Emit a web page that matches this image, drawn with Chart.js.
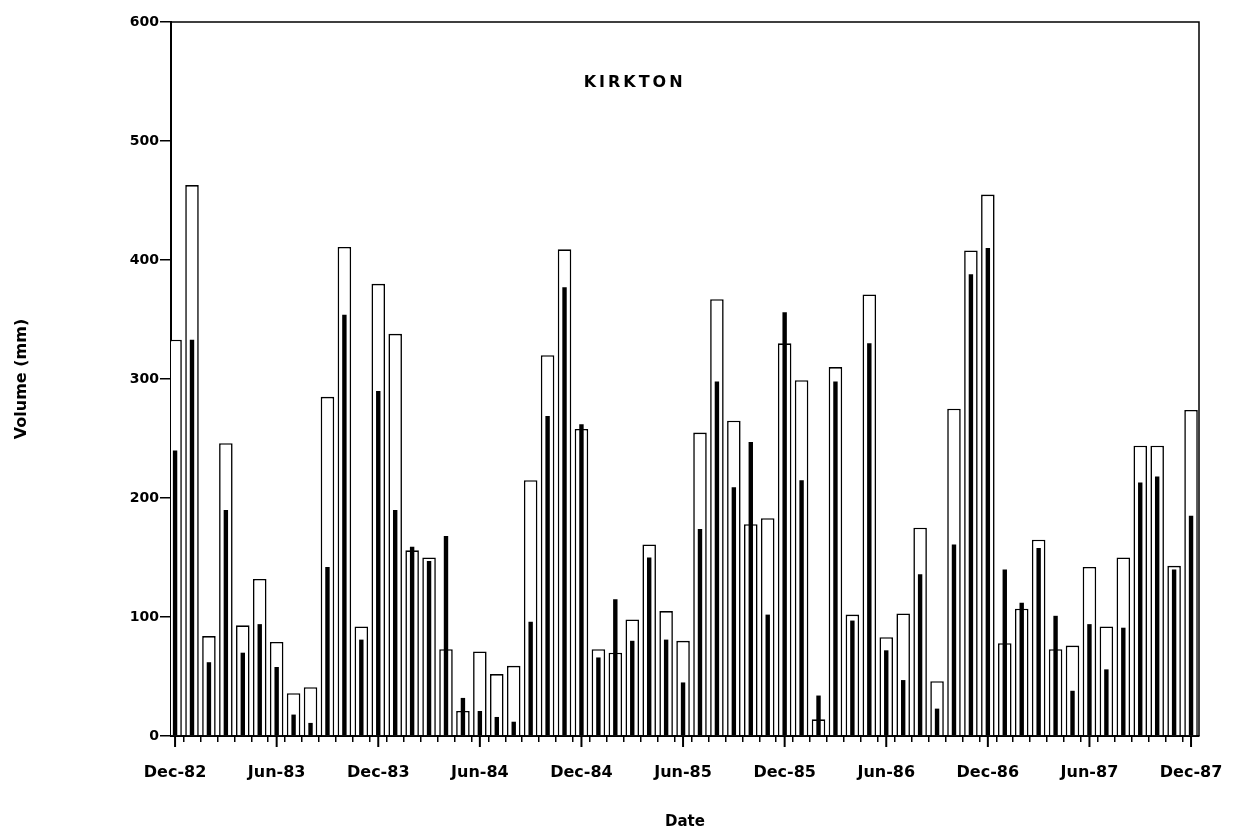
<!DOCTYPE html>
<html>
<head>
<meta charset="utf-8">
<script src="https://cdn.jsdelivr.net/npm/chart.js@4/dist/chart.umd.min.js"></script>
<style>
  html, body { margin: 0; padding: 0; background: #fff; }
  #wrap { width: 1244px; height: 835px; }
</style>
</head>
<body>
<div id="wrap"><canvas id="kirkton_chart" width="1244" height="835"></canvas></div>
<script>
//Monthly values, Dec-82 to Dec-87
const months = ["Dec-82","Jan-83","Feb-83","Mar-83","Apr-83","May-83","Jun-83","Jul-83","Aug-83","Sep-83","Oct-83","Nov-83",
                "Dec-83","Jan-84","Feb-84","Mar-84","Apr-84","May-84","Jun-84","Jul-84","Aug-84","Sep-84","Oct-84","Nov-84",
                "Dec-84","Jan-85","Feb-85","Mar-85","Apr-85","May-85","Jun-85","Jul-85","Aug-85","Sep-85","Oct-85","Nov-85",
                "Dec-85","Jan-86","Feb-86","Mar-86","Apr-86","May-86","Jun-86","Jul-86","Aug-86","Sep-86","Oct-86","Nov-86",
                "Dec-86","Jan-87","Feb-87","Mar-87","Apr-87","May-87","Jun-87","Jul-87","Aug-87","Sep-87","Oct-87","Nov-87",
                "Dec-87"];

//open bars
const open_values = [333, 463, 84, 246, 93, 132, 79, 36, 41, 285, 411, 92,
                     380, 338, 156, 150, 73, 21, 71, 52, 59, 215, 320, 409,
                     258, 73, 70, 98, 161, 105, 80, 255, 367, 265, 178, 183,
                     330, 299, 14, 310, 102, 371, 83, 103, 175, 46, 275, 408,
                     455, 78, 107, 165, 73, 76, 142, 92, 150, 244, 244, 143,
                     274];

//black bars
const black_values = [240, 333, 62, 190, 70, 94, 58, 18, 11, 142, 354, 81,
                      290, 190, 159, 147, 168, 32, 21, 16, 12, 96, 269, 377,
                      262, 66, 115, 80, 150, 81, 45, 174, 298, 209, 247, 102,
                      356, 215, 34, 298, 97, 330, 72, 47, 136, 23, 161, 388,
                      410, 140, 112, 158, 101, 38, 94, 56, 91, 213, 218, 140,
                      185];

const y_ticks = [0, 100, 200, 300, 400, 500, 600];
const label_every = 6;
const chart_title = "KIRKTON";
const x_title = "Date";
const y_title = "Volume (mm)";

const font_family = "'DejaVu Sans', sans-serif";

function toPoints(arr){
    var pts = [];
    for(let i = 0;i < arr.length;i++){
        pts.push({x: i, y: arr[i]});
    }
    return pts;
}

//frame round the plot, long ticks under the labelled months, and the title inside
const framePlugin = {
    id: 'frame',
    afterDraw(chart){
        const ctx = chart.ctx;
        const a = chart.chartArea;
        const xs = chart.scales.x;
        ctx.save();
        ctx.strokeStyle = "#000";
        ctx.lineWidth = 1.5;
        ctx.beginPath();
        ctx.moveTo(a.left, a.top);
        ctx.lineTo(a.right, a.top);
        ctx.lineTo(a.right, a.bottom);
        ctx.stroke();
        ctx.lineWidth = 2;
        for(let i = 0;i < months.length;i += label_every){
            var px = xs.getPixelForValue(i);
            ctx.beginPath();
            ctx.moveTo(px, a.bottom);
            ctx.lineTo(px, a.bottom + 11);
            ctx.stroke();
        }
        ctx.fillStyle = "#000";
        ctx.font = "bold 16px " + font_family;
        ctx.letterSpacing = "3px";
        ctx.textAlign = "center";
        ctx.textBaseline = "middle";
        ctx.fillText(chart_title, a.left + (a.right - a.left) * 0.451, a.top + 61);
        ctx.restore();
    }
};

var chrt_ctx = document.getElementById("kirkton_chart").getContext('2d');
const chrt = new Chart(chrt_ctx, {
    type: 'bar',
    data: {
        datasets: [{
            label: 'black',
            data: toPoints(black_values),
            backgroundColor: "#000",
            borderWidth: 0,
            grouped: false,
            barPercentage: 0.26,
            categoryPercentage: 1,
            order: 0
        }, {
            label: 'open',
            data: toPoints(open_values),
            backgroundColor: "#fff",
            borderColor: "#000",
            borderWidth: 1.6,
            grouped: false,
            barPercentage: 0.8,
            categoryPercentage: 1,
            order: 1
        }]
    },
    options: {
        responsive: false,
        animation: false,
        layout: { padding: { top: 22, right: 45, left: 0, bottom: 0 } },
        plugins: {
            legend: { display: false },
            tooltip: { enabled: false }
        },
        scales: {
            x: {
                type: 'linear',
                offset: false,
                min: -0.24,
                max: 60.47,
                afterFit(scale){ scale.height = 99; },
                ticks: {
                    stepSize: 1,
                    includeBounds: false,
                    autoSkip: false,
                    maxRotation: 0,
                    padding: 21,
                    color: "#000",
                    font: { family: font_family, size: 16, weight: 'bold' },
                    callback: function(v){
                        return (v % label_every == 0) ? months[v] : '';
                    }
                },
                grid: {
                    drawOnChartArea: false,
                    drawTicks: true,
                    tickLength: 6,
                    color: "#000",
                    lineWidth: 1.5
                },
                border: { color: "#000", width: 2 },
                title: {
                    display: true,
                    text: x_title,
                    color: "#000",
                    font: { family: font_family, size: 15, weight: 'bold' },
                    padding: { top: 0, bottom: 4 }
                }
            },
            y: {
                min: 0,
                max: 600,
                afterFit(scale){ scale.width = 171; },
                afterBuildTicks(scale){
                    scale.ticks = y_ticks.map(function(v){ return {value: v}; });
                },
                ticks: {
                    padding: 1,
                    color: "#000",
                    font: { family: font_family, size: 14, weight: 'bold' }
                },
                grid: {
                    drawOnChartArea: false,
                    drawTicks: true,
                    tickLength: 11,
                    color: "#000",
                    lineWidth: 1.5
                },
                border: { color: "#000", width: 2 },
                title: {
                    display: true,
                    text: y_title,
                    color: "#000",
                    font: { family: font_family, size: 16, weight: 'bold' },
                    padding: { top: 12, bottom: 0 }
                }
            }
        }
    },
    plugins: [framePlugin]
});
</script>
</body>
</html>
